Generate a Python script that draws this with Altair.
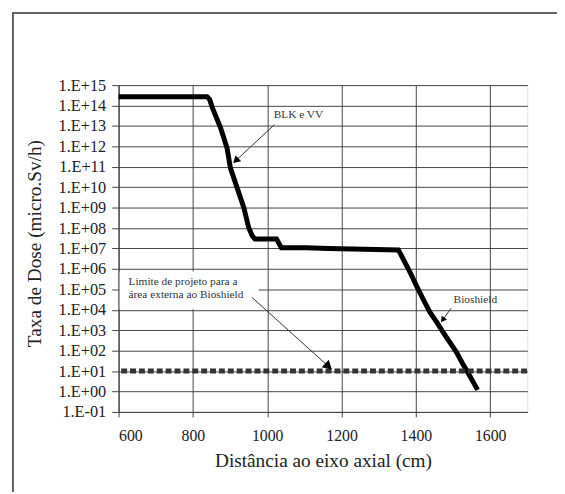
import altair as alt
import pandas as pd

# Curve data (distance cm, dose rate micro.Sv/h)
dist = [600, 838, 845, 852, 875, 892, 901, 919, 937, 950, 960, 967, 1025, 1038,
        1105, 1166, 1353, 1367, 1385, 1402, 1420, 1438, 1456, 1473, 1491, 1509,
        1526, 1544, 1566]
dose = [2.7e14, 2.7e14, 2.0e14, 8e13, 7.6e12, 8e11, 8.7e10, 9.3e9, 1e9, 1.07e8,
        4e7, 2.9e7, 2.9e7, 1.1e7, 1.1e7, 1e7, 8.5e6, 2.8e6, 6.5e5, 1.45e5, 3.2e4,
        7.4e3, 2.5e3, 8e2, 2.6e2, 85, 23, 6.3, 1.2]

# Design limit
limit_x = [607, 1700]
limit_y = [10, 10]

x_ticks = [600, 800, 1000, 1200, 1400, 1600]
y_ticks = [1e-1, 1e0, 1e1, 1e2, 1e3, 1e4, 1e5, 1e6, 1e7, 1e8, 1e9, 1e10,
           1e11, 1e12, 1e13, 1e14, 1e15]

# Annotations
ann_text = ["BLK e VV", "Bioshield"]
ann_tx = [1084, 1560]
ann_ty = [3.5e13, 2.9e4]
lim_text = ["Limite de projeto para a", "área externa ao Bioshield"]
lim_tx = [626.6, 626.6]
lim_ty = [2.4e5, 5.1e4]
arr_x1 = [1019.6, 958.6, 1495]
arr_y1 = [1.17e13, 4.1e4, 1.2e4]
arr_x2 = [915.3, 1165, 1472]
arr_y2 = [2.0e11, 16.8, 3.2e3]
arr_angle = [227, 132, 216]
arr_size = [70, 110, 45]

FONT = "'Liberation Serif', 'Times New Roman', Times, serif"

xs = alt.Scale(domain=[600, 1700], nice=False)
ys = alt.Scale(type="log", domain=[0.1, 1e15], nice=False)

label_expr = ("'1.E' + (datum.value >= 1 ? '+' : '-') + "
              "(abs(round(log(datum.value)/LN10)) < 10 ? '0' : '') + "
              "abs(round(log(datum.value)/LN10))")

df = pd.DataFrame({"x": dist, "y": dose})
lim_df = pd.DataFrame({"x": limit_x, "y": limit_y})

base_x = alt.X("x:Q", scale=xs, axis=alt.Axis(
    values=x_ticks, format="d", title="Distância ao eixo axial (cm)", grid=True,
    gridColor="#444", gridWidth=1, domainColor="#444", tickColor="#444",
    tickSize=5, labelFont=FONT, labelFontSize=16, labelColor="#222",
    labelPadding=11, titleFont=FONT, titleFontSize=19.5, titleFontWeight="normal",
    titleColor="#222", titleY=49, titleBaseline="middle"))
base_y = alt.Y("y:Q", scale=ys, axis=alt.Axis(
    values=y_ticks, labelExpr=label_expr, title="Taxa de Dose (micro.Sv/h)",
    grid=True, gridColor="#444", gridWidth=1, domainColor="#444",
    tickColor="#444", tickSize=7, labelFont=FONT, labelFontSize=16.5,
    labelColor="#222", labelPadding=6, titleFont=FONT, titleFontSize=19.5,
    titleFontWeight="normal", titleColor="#222", titleX=-85, titleY=160,
    titleAlign="center", titleBaseline="middle"))

curve = alt.Chart(df).mark_line(color="black", strokeWidth=5, strokeJoin="miter").encode(
    x=base_x, y=base_y)

box = alt.Chart(pd.DataFrame({"x": [602.7], "x2": [977], "y": [7.4e5], "y2": [1.07e4]})).mark_rect(
    fill="white").encode(x=alt.X("x:Q", scale=xs), x2="x2:Q",
                         y=alt.Y("y:Q", scale=ys), y2="y2:Q")

limit = alt.Chart(lim_df).mark_line(color="#333", strokeWidth=5, strokeDash=[6, 3]).encode(
    x=alt.X("x:Q", scale=xs), y=alt.Y("y:Q", scale=ys))

arr_df = pd.DataFrame({"x": arr_x1, "y": arr_y1, "x2": arr_x2, "y2": arr_y2,
                       "a": arr_angle, "s": arr_size})
arr_lines = alt.Chart(arr_df).mark_rule(color="#333", strokeWidth=1).encode(
    x=alt.X("x:Q", scale=xs), y=alt.Y("y:Q", scale=ys), x2="x2:Q", y2="y2:Q")
arr_heads = alt.Chart(arr_df).mark_point(shape="triangle-up", filled=True, color="black",
                                         opacity=1).encode(
    x=alt.X("x2:Q", scale=xs), y=alt.Y("y2:Q", scale=ys),
    angle=alt.Angle("a:Q", scale=None), size=alt.Size("s:Q", scale=None))

ann = alt.Chart(pd.DataFrame({"t": ann_text, "x": ann_tx, "y": ann_ty})).mark_text(
    font=FONT, fontSize=11.5, color="#333", align="center", baseline="middle").encode(
    x=alt.X("x:Q", scale=xs), y=alt.Y("y:Q", scale=ys), text="t:N")

lim_lbl = alt.Chart(pd.DataFrame({"t": lim_text, "x": lim_tx, "y": lim_ty})).mark_text(
    font=FONT, fontSize=11.5, color="#333", align="left", baseline="middle").encode(
    x=alt.X("x:Q", scale=xs), y=alt.Y("y:Q", scale=ys), text="t:N")

frame = alt.Chart(pd.DataFrame({"k": [0]})).mark_rect(
    fill=None, stroke="#333", strokeWidth=1.5).encode(
    x=alt.value(-107), x2=alt.value(460), y=alt.value(-73), y2=alt.value(430))

chart = alt.layer(box, curve, limit, arr_lines, arr_heads, ann, lim_lbl, frame).properties(
    width=414, height=331,
    autosize=alt.AutoSizeParams(type="none"),
    padding={"left": 112, "top": 75, "right": 30, "bottom": 78},
).configure_view(stroke="#888", strokeWidth=2).configure(background="white")

chart.save("out.html", embed_options={"renderer": "svg", "actions": False})
